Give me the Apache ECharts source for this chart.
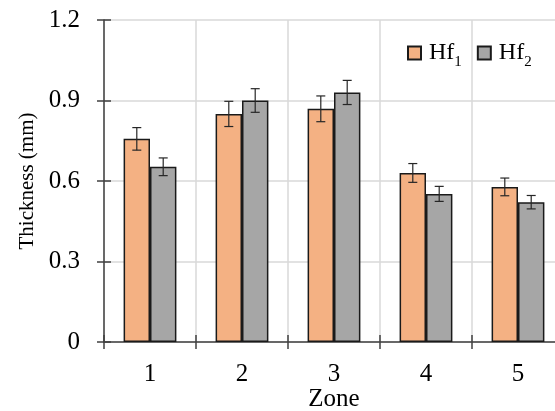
<!DOCTYPE html>
<html>
<head>
<meta charset="utf-8">
<script src="https://cdn.jsdelivr.net/npm/echarts@6/dist/echarts.min.js"></script>
<style>html,body{margin:0;padding:0;background:#fff;}#c{width:555px;height:411px;}</style>
</head>
<body>
<div id="c"></div>
<script>
const categories = ['1', '2', '3', '4', '5'];
const seriesNames = ['Hf1', 'Hf2'];
const hf1 = [0.757, 0.850, 0.869, 0.630, 0.578];
const hf2 = [0.653, 0.900, 0.930, 0.552, 0.521];
const hf1Err = [0.042, 0.047, 0.048, 0.035, 0.033];
const hf2Err = [0.033, 0.044, 0.045, 0.028, 0.025];
const yTicks = [0, 0.3, 0.6, 0.9, 1.2];

const FONT = '"Liberation Serif", "Times New Roman", serif';
const BAR_FRAC = 0.287;

function errData(vals, errs) { return vals.map((v, i) => [i, v, errs[i]]); }

function errRender(side) {
  return function (params, api) {
    const x = api.value(0), v = api.value(1), e = api.value(2);
    const bw = api.size([1, 0])[0] * BAR_FRAC;
    const top = api.coord([x, v + e]);
    const bot = api.coord([x, v - e]);
    const cx = top[0] + side * bw / 2;
    const cap = 4.5;
    const st = { stroke: '#262626', lineWidth: 1.2 };
    return {
      type: 'group',
      children: [
        { type: 'line', shape: { x1: cx, y1: top[1], x2: cx, y2: bot[1] }, style: st },
        { type: 'line', shape: { x1: cx - cap, y1: top[1], x2: cx + cap, y2: top[1] }, style: st },
        { type: 'line', shape: { x1: cx - cap, y1: bot[1], x2: cx + cap, y2: bot[1] }, style: st }
      ]
    };
  };
}

const chart = echarts.init(document.getElementById('c'), null, { renderer: 'canvas' });
const axisLineStyle = { color: '#404040', width: 1.5 };
chart.setOption({
  backgroundColor: '#ffffff',
  animation: false,
  textStyle: { fontFamily: FONT },
  grid: { left: 104, top: 20, width: 460, height: 322, containLabel: false, outerBoundsMode: 'none' },
  legend: {
    data: seriesNames,
    left: 407, top: 41, padding: 0,
    itemWidth: 13, itemHeight: 13, itemGap: 15,
    icon: 'rect',
    formatter: function (name) { return '{a|Hf}{b|' + name.slice(2) + '}'; },
    textStyle: {
      fontFamily: FONT, color: '#000',
      rich: {
        a: { fontSize: 24, fontFamily: FONT, color: '#000', padding: [0, 0, 0, 3] },
        b: { fontSize: 15, fontFamily: FONT, color: '#000', verticalAlign: 'bottom', padding: [0, 0, -5, 0] }
      }
    }
  },
  xAxis: [{
    type: 'category', data: categories, position: 'bottom',
    name: 'Zone', nameLocation: 'middle', nameGap: 45, nameMoveOverlap: false,
    nameTextStyle: { fontFamily: FONT, fontSize: 25, color: '#000' },
    axisLine: { lineStyle: axisLineStyle },
    axisTick: { show: true, length: 7, inside: false, lineStyle: axisLineStyle },
    axisLabel: { fontFamily: FONT, fontSize: 25, color: '#000', margin: 20 },
    splitLine: { show: true, interval: 0, lineStyle: { color: '#d9d9d9', width: 1.5 } }
  }, {
    type: 'category', data: categories, position: 'bottom',
    axisLine: { show: false },
    axisTick: { show: true, length: 7, inside: true, lineStyle: axisLineStyle },
    axisLabel: { show: false },
    splitLine: { show: false }
  }],
  yAxis: [{
    type: 'value', min: 0, max: 1.2, interval: 0.3, position: 'left',
    name: 'Thickness (mm)', nameLocation: 'middle', nameGap: 57,
    nameTextStyle: { fontFamily: FONT, fontSize: 21, color: '#000' },
    axisLine: { show: true, lineStyle: axisLineStyle },
    axisTick: { show: true, length: 7, inside: false, lineStyle: axisLineStyle },
    axisLabel: {
      fontFamily: FONT, fontSize: 25, color: '#000', margin: 24,
      formatter: function (v) { const t = yTicks.find(k => Math.abs(k - v) < 1e-9); return '{r|' + (t === 0 ? '0' : String(t)) + '}'; },
      rich: { r: { fontFamily: FONT, fontSize: 25, color: '#000', width: 32, align: 'right' } }
    },
    splitLine: { show: true, lineStyle: { color: '#d9d9d9', width: 1.5 } }
  }, {
    type: 'value', min: 0, max: 1.2, interval: 0.3, position: 'left',
    axisLine: { show: false },
    axisTick: { show: true, length: 7, inside: true, lineStyle: axisLineStyle },
    axisLabel: { show: false },
    splitLine: { show: false }
  }],
  series: [{
    name: seriesNames[0], type: 'bar', data: hf1,
    barWidth: (BAR_FRAC * 100) + '%', barGap: '0%',
    itemStyle: { color: '#F4B183', borderColor: '#1a1a1a', borderWidth: 1.5 }
  }, {
    name: seriesNames[1], type: 'bar', data: hf2,
    barWidth: (BAR_FRAC * 100) + '%', barGap: '0%',
    itemStyle: { color: '#A6A6A6', borderColor: '#1a1a1a', borderWidth: 1.5 }
  }, {
    type: 'custom', renderItem: errRender(-1), data: errData(hf1, hf1Err),
    encode: { x: 0, y: 1 }, z: 5, silent: true
  }, {
    type: 'custom', renderItem: errRender(1), data: errData(hf2, hf2Err),
    encode: { x: 0, y: 1 }, z: 5, silent: true
  }]
});
</script>
</body>
</html>
